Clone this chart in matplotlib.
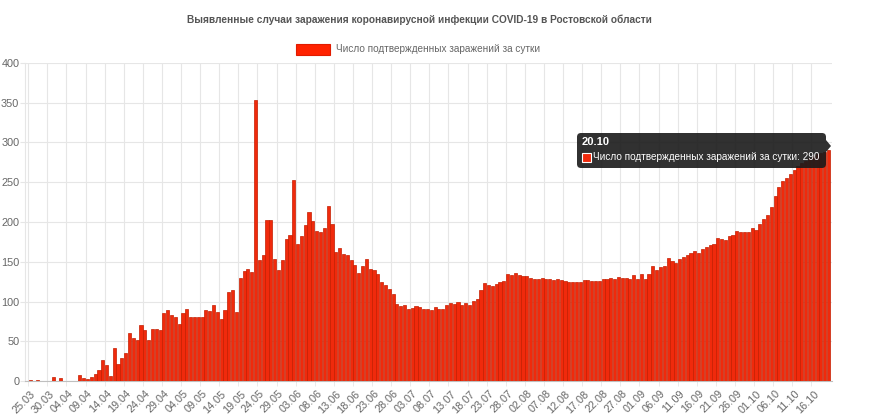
import datetime
import numpy as np
import matplotlib
matplotlib.use('Agg')
import matplotlib.pyplot as plt
from matplotlib.patches import FancyBboxPatch, Rectangle, Polygon
from matplotlib.transforms import IdentityTransform

plt.rcParams['font.family'] = ['Liberation Sans', 'DejaVu Sans']

# daily labels 25.03 .. 20.10
start = datetime.date(2020, 3, 25)
days = [(start + datetime.timedelta(days=k)).strftime('%d.%m') for k in range(210)]

# confirmed cases per day
cases = [
    1, 0, 1, 0, 0, 0, 5, 0, 4, 0,
    0, 0, 0, 8, 4, 3, 5, 9, 14, 26,
    20, 6, 41, 22, 29, 35, 60, 54, 51, 70,
    64, 51, 65, 65, 64, 86, 89, 83, 80, 72,
    85, 90, 81, 80, 80, 80, 89, 88, 95, 87,
    78, 89, 112, 115, 87, 130, 138, 141, 137, 354,
    152, 158, 203, 203, 153, 140, 152, 178, 184, 253,
    172, 183, 196, 212, 201, 189, 187, 192, 220, 198,
    162, 167, 160, 158, 152, 146, 136, 145, 153, 141,
    140, 135, 124, 121, 116, 109, 97, 94, 95, 90,
    92, 94, 93, 91, 90, 89, 93, 90, 91, 95,
    98, 97, 99, 96, 98, 96, 101, 103, 115, 123,
    121, 119, 122, 124, 126, 135, 133, 136, 133, 132,
    132, 130, 128, 128, 129, 128, 128, 127, 128, 127,
    126, 125, 125, 124, 125, 127, 127, 126, 126, 126,
    128, 128, 130, 128, 131, 130, 130, 128, 133, 128,
    134, 128, 134, 145, 140, 143, 145, 155, 151, 148,
    154, 156, 159, 161, 163, 161, 166, 168, 171, 172,
    180, 179, 177, 182, 184, 189, 187, 188, 188, 192,
    190, 198, 204, 209, 219, 233, 244, 252, 255, 261,
    265, 270, 274, 277, 280, 283, 285, 287, 288, 290,
]

title = 'Выявленные случаи заражения коронавирусной инфекции COVID-19 в Ростовской области'
series_name = 'Число подтвержденных заражений за сутки'

W, H = 884, 419
fig = plt.figure(figsize=(W / 100, H / 100), dpi=100)
ax = fig.add_axes([25 / W, 1 - 381 / H, (832 - 25) / W, (381 - 63) / H])

x = np.arange(len(cases))
ax.bar(x, cases, width=0.82, color='#f02a0c', edgecolor='#c41e00', linewidth=0.5, zorder=3)

ax.set_xlim(-1.36, 209.9)
ax.set_ylim(0, 400)

# y axis
ax.set_yticks(np.arange(0, 401, 50))
ax.tick_params(axis='y', length=3.6, color='#e6e6e6', labelsize=7.8, labelcolor='#666666', pad=0.5)
ax.grid(axis='y', color='#e6e6e6', linewidth=0.8, zorder=0)

# x axis: labels every 5 days at bar centers, grid lines at left bar edges
lab_pos = x[::5]
ax.set_xticks(lab_pos)
ax.set_xticklabels([days[i] for i in lab_pos], rotation=45, ha='right',
                   rotation_mode='anchor', fontsize=7.8, color='#666666')
ax.tick_params(axis='x', which='major', length=0, pad=5.5)
ax.set_xticks(lab_pos - 0.5, minor=True)
ax.tick_params(axis='x', which='minor', length=3.6, color='#e6e6e6')
ax.grid(axis='x', which='minor', color='#e6e6e6', linewidth=0.8, zorder=0)

for s in ['top', 'right']:
    ax.spines[s].set_visible(False)
ax.spines['left'].set_color('#e6e6e6')
ax.spines['bottom'].set_color('#bfbfbf')

# title and legend
fig.text(419 / W, 1 - 20 / H, title, ha='center', va='center',
         fontsize=7.3, fontweight='bold', color='#555555')
fig.patches.append(Rectangle((296, H - 55), 34, 11, transform=IdentityTransform(),
                             facecolor='#ff2200', edgecolor='#e01c00', linewidth=0.8))
fig.text(336 / W, 1 - 49 / H, series_name, ha='left', va='center',
         fontsize=7.2, color='#666666')

# tooltip on the last bar
tip = FancyBboxPatch((577, H - 168), 249, 35, boxstyle='round,pad=0,rounding_size=4',
                     transform=IdentityTransform(), facecolor='#1a1a1a', edgecolor='none',
                     alpha=0.9, zorder=10)
fig.patches.append(tip)
fig.patches.append(Polygon([(826, H - 140), (831, H - 146), (826, H - 152)],
                           closed=True, transform=IdentityTransform(),
                           facecolor='#1a1a1a', edgecolor='none', alpha=0.9, zorder=10))
fig.text(582 / W, 1 - 142 / H, days[-1], ha='left', va='center',
         fontsize=8, fontweight='bold', color='white', zorder=11)
fig.patches.append(Rectangle((582, H - 162), 9, 9, transform=IdentityTransform(),
                             facecolor='#f02a0c', edgecolor='white', linewidth=0.8, zorder=11))
fig.text(593 / W, 1 - 157 / H, f'{series_name}: {cases[-1]}', ha='left', va='center',
         fontsize=7.2, color='white', zorder=11)

fig.savefig('out.png', dpi=100, facecolor='white')
